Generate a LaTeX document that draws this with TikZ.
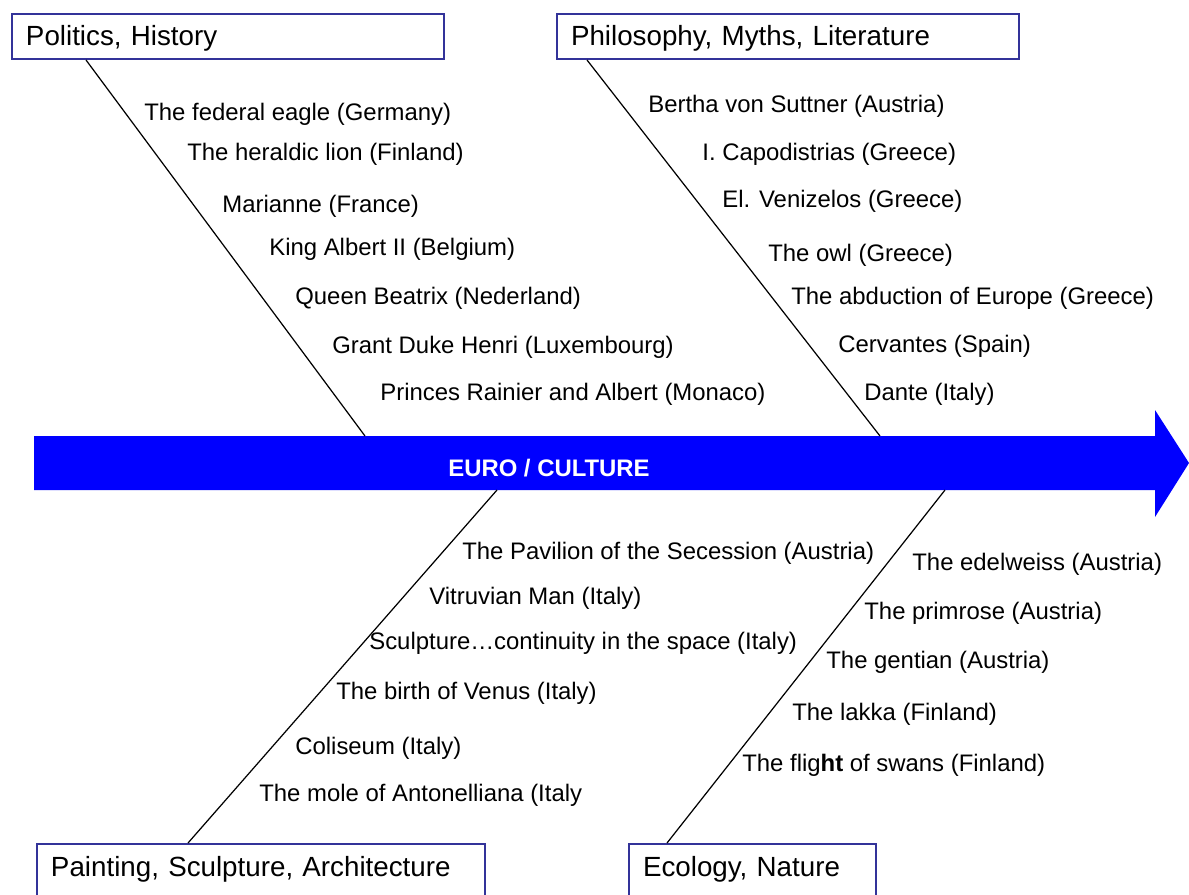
\documentclass[tikz,border=0pt]{standalone}
\usepackage{fontspec}
\setmainfont{Liberation Sans}
\definecolor{boxblue}{RGB}{51, 51, 153}
\definecolor{spineblue}{RGB}{0, 0, 255}

\begin{document}
\begin{tikzpicture}[x=0.02cm, y=-0.02cm,
        box/.style = {draw=boxblue, fill=white, line width=0.04cm, anchor=north west, inner xsep=0.28cm, inner ysep=0pt, minimum height=0.9cm, text depth=0.04cm, align=left, font=\fontsize{15.8}{19}\selectfont},
        lowbox/.style = {box, minimum height=1.24cm, text depth=0.36cm},
        item/.style = {anchor=west, inner sep=0pt, yshift=-0.04cm, font=\fontsize{13.6}{16}\selectfont},
        bone/.style = {draw=black, line width=0.7pt}]
    \useasboundingbox (0,0) rectangle (1189,894);
    \clip (0,0) rectangle (1189,894);
    % spine
    \fill[spineblue] (34,436) -- (1155,436) -- (1155,410) -- (1189,463) -- (1155,517) -- (1155,490) -- (34,490) -- cycle;
    \node[font=\bfseries\fontsize{13.6}{16}\selectfont, text=white] (spine) at (549,468) {EURO / CULTURE};
    \coordinate (polend) at (365,436);
    \coordinate (phiend) at (880,436);
    \coordinate (artend) at (497,490);
    \coordinate (ecoend) at (945,490);
    % category boxes
    \node[box, text width=8.08cm] (politics) at (11,13) {Politics, History};
    \node[box, text width=8.68cm] (philosophy) at (556,13) {Philosophy, Myths, Literature};
    \node[lowbox, text width=8.40cm] (painting) at (36,843) {Painting, Sculpture, Architecture};
    \node[lowbox, text width=4.38cm] (ecology) at (628,843) {Ecology, Nature};
    % bones
    \draw[bone] (politics.south west) ++(75,0) -- (polend);
    \draw[bone] (philosophy.south west) ++(31,0) -- (phiend);
    \draw[bone] (painting.north west) ++(152,0) -- (artend);
    \draw[bone] (ecology.north west) ++(39,0) -- (ecoend);
    % politics, history
    \node[item] (pol1) at (144,112) {The federal eagle (Germany)};
    \node[item] (pol2) at (187,152) {The heraldic lion (Finland)};
    \node[item] (pol3) at (222,204) {Marianne (France)};
    \node[item] (pol4) at (269,247) {King Albert II (Belgium)};
    \node[item] (pol5) at (295,296) {Queen Beatrix (Nederland)};
    \node[item] (pol6) at (332,345) {Grant Duke Henri (Luxembourg)};
    \node[item] (pol7) at (380,392) {Princes Rainier and Albert (Monaco)};
    % philosophy, myths, literature
    \node[item] (phi1) at (648,104) {Bertha von Suttner (Austria)};
    \node[item] (phi2) at (702,152) {I. Capodistrias (Greece)};
    \node[item] (phi3) at (722,199) {El. Venizelos (Greece)};
    \node[item] (phi4) at (768,253) {The owl (Greece)};
    \node[item] (phi5) at (791,296) {The abduction of Europe (Greece)};
    \node[item] (phi6) at (838,344) {Cervantes (Spain)};
    \node[item] (phi7) at (864,392) {Dante (Italy)};
    % painting, sculpture, architecture
    \node[item] (art1) at (462,551) {The Pavilion of the Secession (Austria)};
    \node[item] (art2) at (429,596) {Vitruvian Man (Italy)};
    \node[item] (art3) at (369,641) {Sculpture…continuity in the space (Italy)};
    \node[item] (art4) at (336,691) {The birth of Venus (Italy)};
    \node[item] (art5) at (295,746) {Coliseum (Italy)};
    \node[item] (art6) at (259,793) {The mole of Antonelliana (Italy};
    % ecology, nature
    \node[item] (eco1) at (912,562) {The edelweiss (Austria)};
    \node[item] (eco2) at (864,611) {The primrose (Austria)};
    \node[item] (eco3) at (826,660) {The gentian (Austria)};
    \node[item] (eco4) at (792,712) {The lakka (Finland)};
    \node[item] (eco5) at (742,763) {The flig\textbf{ht} of swans (Finland)};
\end{tikzpicture}
\end{document}
